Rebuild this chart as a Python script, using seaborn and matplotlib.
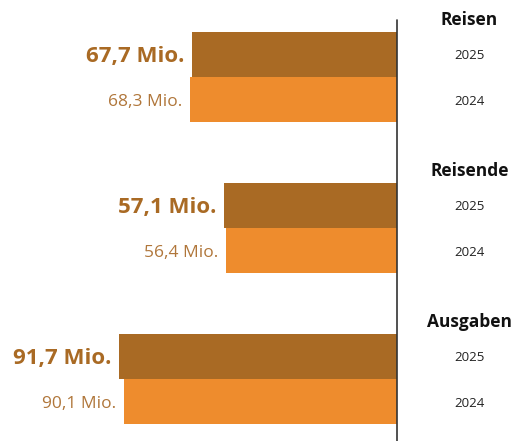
import matplotlib
matplotlib.use("Agg")
import matplotlib.pyplot as plt
import seaborn as sns
import pandas as pd

# data
groups = ["Reisen", "Reisende", "Ausgaben"]
years = ["2025", "2024"]
values_2025 = [67.7, 57.1, 91.7]
values_2024 = [68.3, 56.4, 90.1]
labels_2025 = ["67,7 Mio.", "57,1 Mio.", "91,7 Mio."]
labels_2024 = ["68,3 Mio.", "56,4 Mio.", "90,1 Mio."]

df = pd.DataFrame({
    "group": groups * 2,
    "year": ["2025"] * 3 + ["2024"] * 3,
    "value": values_2025 + values_2024,
    "label": labels_2025 + labels_2024,
})

sns.set_style("white")
plt.rcParams["font.family"] = ["Open Sans", "DejaVu Sans"]

fig = plt.figure(figsize=(5.19, 4.41), dpi=100)
ax = fig.add_axes([0, 0, 1, 1])

palette = {"2025": "#A96A24", "2024": "#EE8C2D"}
sns.barplot(data=df, y="group", x="value", hue="year", hue_order=years,
            order=groups, orient="h", palette=palette, width=0.6,
            dodge=True, legend=False, saturation=1, linewidth=0, ax=ax)

ax.set_xlim(131, -40.3)
ax.set_ylim(2.41, -0.51)
ax.axvline(0, ymin=0, ymax=(2.41 + 0.38) / 2.92, color="#333333", lw=1.2)

off = 0.15
for i, g in enumerate(groups):
    ax.text(-24, i - 0.39, g, ha="center", va="center_baseline", fontsize=12.5,
            fontweight="bold", color="#111111")
    ax.text(-24, i - off, "2025", ha="center", va="center_baseline", fontsize=9.5, color="#222222")
    ax.text(-24, i + off, "2024", ha="center", va="center_baseline", fontsize=9.5, color="#222222")
    ax.text(values_2025[i] + 2.5, i - off, labels_2025[i], ha="right", va="center_baseline",
            fontsize=16, fontweight="bold", color="#A96A24")
    ax.text(values_2024[i] + 2.5, i + off, labels_2024[i], ha="right", va="center_baseline",
            fontsize=12.5, color="#B0763A")

ax.set_axis_off()
fig.savefig("out.png", dpi=100)
